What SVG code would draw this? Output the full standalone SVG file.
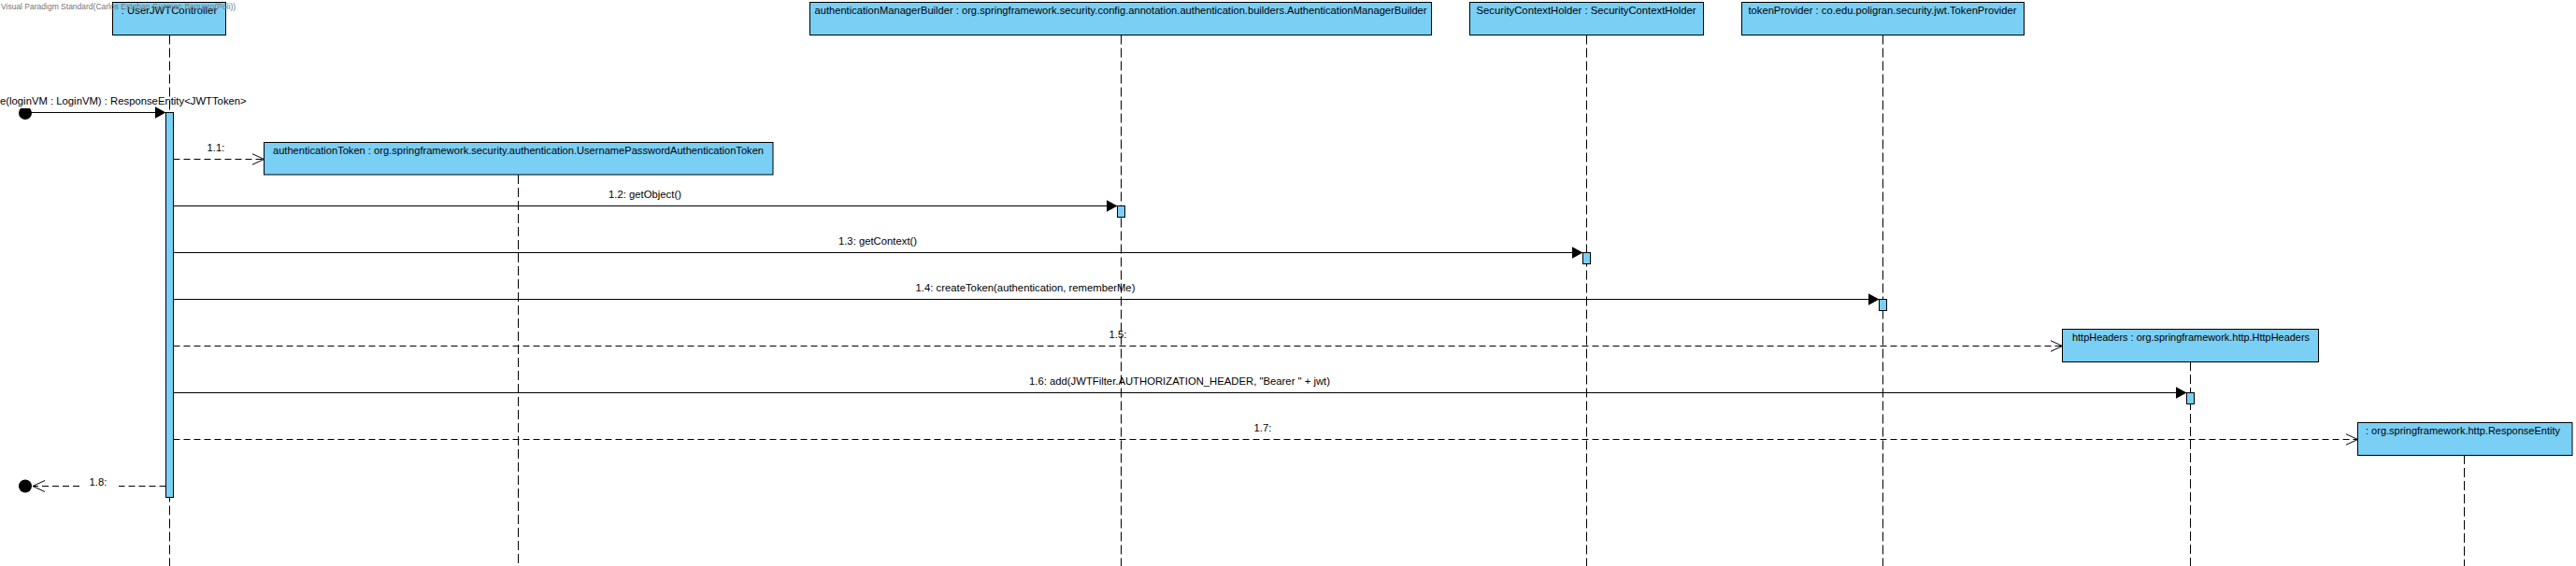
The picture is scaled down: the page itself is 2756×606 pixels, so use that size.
<svg xmlns="http://www.w3.org/2000/svg" width="2756" height="606" viewBox="0 0 2756 606">
<style>
.bg{fill:#ffffff}
.head{fill:#7ACFF5;stroke:#000;stroke-width:1}
.act{fill:#7ACFF5;stroke:#000;stroke-width:1}
.life{stroke:#000;stroke-width:1;stroke-dasharray:10,4;fill:none}
.msg{stroke:#000;stroke-width:1;fill:none}
.ret{stroke:#000;stroke-width:1;fill:none;stroke-dasharray:7,4}
.t{font-family:"Liberation Sans",Arial,sans-serif;font-size:11.3px;fill:#000}
.wm{font-family:"Liberation Sans",Arial,sans-serif;font-size:8.5px;fill:#777777}
</style>
<defs>
<marker id="filled" markerWidth="12" markerHeight="14" refX="12" refY="7" orient="auto" markerUnits="userSpaceOnUse">
<path d="M0,0.5 L12,7 L0,13.5 Z" fill="#000"/>
</marker>
<marker id="open" markerWidth="14" markerHeight="14" refX="13" refY="7" orient="auto" markerUnits="userSpaceOnUse">
<path d="M0,1 L13,7 L0,13" fill="none" stroke="#000" stroke-width="1"/>
</marker>
<clipPath id="dotclip"><rect x="0" y="116" width="60" height="20"/></clipPath>
</defs>
<rect class="bg" x="0" y="0" width="2756" height="606"/>

<g id="lifelines">
<line class="life" x1="181.5" y1="37.5" x2="181.5" y2="606"/>
<line class="life" x1="554.5" y1="187" x2="554.5" y2="606"/>
<line class="life" x1="1199.5" y1="37.5" x2="1199.5" y2="606"/>
<line class="life" x1="1697.5" y1="37.5" x2="1697.5" y2="606"/>
<line class="life" x1="2014.5" y1="37.5" x2="2014.5" y2="606"/>
<line class="life" x1="2343.5" y1="387" x2="2343.5" y2="606"/>
<line class="life" x1="2636.5" y1="487" x2="2636.5" y2="606"/>
</g>

<g id="node-userjwtcontroller">
<rect class="head" x="120.5" y="2.5" width="121" height="35"/>
<text class="t" x="181" y="14.5" text-anchor="middle">: UserJWTController</text>
</g>
<g id="node-authenticationtoken">
<rect class="head" x="282.5" y="152.5" width="544.5" height="34.5"/>
<text class="t" x="554.5" y="164.5" text-anchor="middle" textLength="525" lengthAdjust="spacingAndGlyphs">authenticationToken : org.springframework.security.authentication.UsernamePasswordAuthenticationToken</text>
</g>
<g id="node-authenticationmanagerbuilder">
<rect class="head" x="866.5" y="2.5" width="665" height="35"/>
<text class="t" x="1199" y="14.5" text-anchor="middle" textLength="655" lengthAdjust="spacingAndGlyphs">authenticationManagerBuilder : org.springframework.security.config.annotation.authentication.builders.AuthenticationManagerBuilder</text>
</g>
<g id="node-securitycontextholder">
<rect class="head" x="1572.5" y="2.5" width="250" height="35"/>
<text class="t" x="1697" y="14.5" text-anchor="middle" textLength="235" lengthAdjust="spacingAndGlyphs">SecurityContextHolder : SecurityContextHolder</text>
</g>
<g id="node-tokenprovider">
<rect class="head" x="1863.5" y="2.5" width="302" height="35"/>
<text class="t" x="2014" y="14.5" text-anchor="middle" textLength="287" lengthAdjust="spacingAndGlyphs">tokenProvider : co.edu.poligran.security.jwt.TokenProvider</text>
</g>
<g id="node-httpheaders">
<rect class="head" x="2206.5" y="352.5" width="274" height="35"/>
<text class="t" x="2344" y="364.5" text-anchor="middle" textLength="254" lengthAdjust="spacingAndGlyphs">httpHeaders : org.springframework.http.HttpHeaders</text>
</g>
<g id="node-responseentity">
<rect class="head" x="2522.5" y="452.5" width="229.5" height="35"/>
<text class="t" x="2635" y="464.5" text-anchor="middle" textLength="208" lengthAdjust="spacingAndGlyphs">: org.springframework.http.ResponseEntity</text>
</g>

<g id="activations">
<rect class="act" x="177.5" y="120.5" width="8" height="412"/>
<rect class="act" x="1195.5" y="220.5" width="8" height="12"/>
<rect class="act" x="1693.5" y="270.5" width="8" height="12"/>
<rect class="act" x="2010.5" y="320.5" width="8" height="12"/>
<rect class="act" x="2339.5" y="420.5" width="8" height="12"/>
</g>

<g id="connectors">
<circle cx="27" cy="121" r="7" fill="#000" clip-path="url(#dotclip)"/>
<line class="msg" x1="27" y1="120.5" x2="177.5" y2="120.5" marker-end="url(#filled)"/>
<text class="t" x="0" y="112">e(loginVM : LoginVM) : ResponseEntity&lt;JWTToken&gt;</text>

<line class="ret" x1="185.5" y1="170.5" x2="282.5" y2="170.5" marker-end="url(#open)"/>
<text class="t" x="231" y="162" text-anchor="middle">1.1:</text>

<line class="msg" x1="185.5" y1="220.5" x2="1195.5" y2="220.5" marker-end="url(#filled)"/>
<text class="t" x="690" y="212" text-anchor="middle">1.2: getObject()</text>

<line class="msg" x1="185.5" y1="270.5" x2="1693.5" y2="270.5" marker-end="url(#filled)"/>
<text class="t" x="939" y="262" text-anchor="middle">1.3: getContext()</text>

<line class="msg" x1="185.5" y1="320.5" x2="2010.5" y2="320.5" marker-end="url(#filled)"/>
<text class="t" x="1097" y="312" text-anchor="middle">1.4: createToken(authentication, rememberMe)</text>

<line class="ret" x1="185.5" y1="370.5" x2="2206.5" y2="370.5" marker-end="url(#open)"/>
<text class="t" x="1196" y="362" text-anchor="middle">1.5:</text>

<line class="msg" x1="185.5" y1="420.5" x2="2339.5" y2="420.5" marker-end="url(#filled)"/>
<text class="t" x="1262" y="412" text-anchor="middle">1.6: add(JWTFilter.AUTHORIZATION_HEADER, "Bearer " + jwt)</text>

<line class="ret" x1="185.5" y1="470.5" x2="2522.5" y2="470.5" marker-end="url(#open)"/>
<text class="t" x="1351" y="462" text-anchor="middle">1.7:</text>

<circle cx="27" cy="520.5" r="7" fill="#000"/>
<line class="ret" x1="177.5" y1="520.5" x2="127" y2="520.5"/>
<line class="ret" x1="85" y1="520.5" x2="35" y2="520.5" marker-end="url(#open)"/>
<text class="t" x="105" y="520" text-anchor="middle">1.8:</text>
</g>

<text class="wm" x="1" y="10">Visual Paradigm Standard(Carlos Esteban Guzman Baquero(Poli))</text>
</svg>
